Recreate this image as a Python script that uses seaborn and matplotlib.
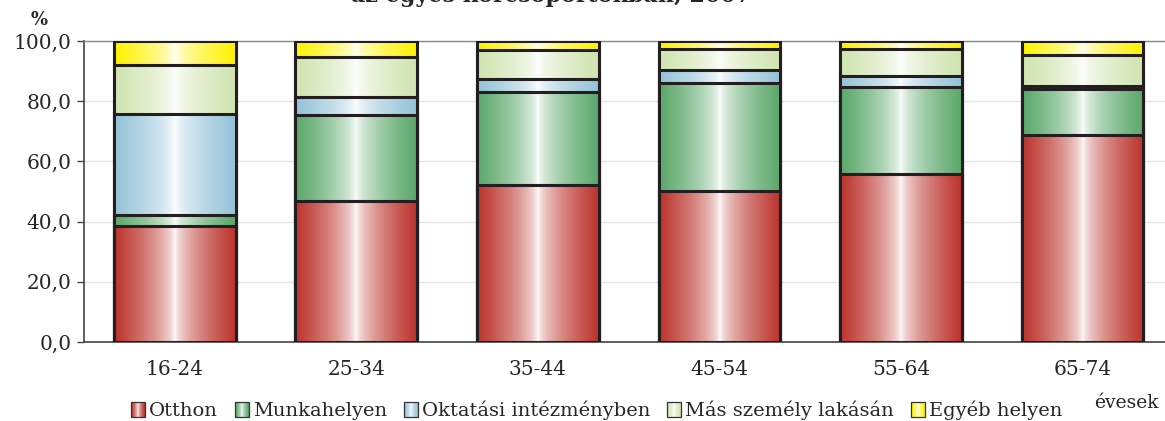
import numpy as np
import pandas as pd
import seaborn as sns
import matplotlib.pyplot as plt
from matplotlib.colors import to_rgb
from matplotlib.patches import Patch, Rectangle
from matplotlib.legend_handler import HandlerBase


groups = ['16-24', '25-34', '35-44', '45-54', '55-64', '65-74']
series = ['Otthon', 'Munkahelyen', 'Oktatási intézményben', 'Más személy lakásán', 'Egyéb helyen']
otthon = [38.5, 46.9, 52.2, 50.3, 55.9, 68.8]
munkahely = [3.8, 28.4, 30.9, 35.6, 28.7, 15.1]
oktatas = [33.3, 6.1, 4.2, 4.5, 3.7, 1.1]
mas_lakas = [16.5, 13.3, 9.6, 7.0, 9.1, 10.3]
egyeb = [7.9, 5.3, 3.1, 2.6, 2.6, 4.7]
colors = ['#bb332c', '#5aa76a', '#95c3d9', '#d0e4b0', '#fff200']

df = pd.DataFrame({'group': groups, 'Otthon': otthon, 'Munkahelyen': munkahely,
                   'Oktatási intézményben': oktatas, 'Más személy lakásán': mas_lakas,
                   'Egyéb helyen': egyeb})
cum = df[series].cumsum(axis=1)
cum['group'] = df['group']


def gradient(color, n=256):
    c = np.array(to_rgb(color))
    t = np.abs(np.linspace(-1, 1, n)) ** 0.6
    return (1 - (1 - c)[None, :] * t[:, None])


class GradHandler(HandlerBase):
    def __init__(self, color):
        super().__init__()
        self.color = color

    def create_artists(self, legend, orig_handle, xdescent, ydescent, width, height, fontsize, trans):
        s = min(width, height)
        x0 = -xdescent + (width - s) / 2
        y0 = -ydescent + (height - s) / 2
        n = 14
        g = gradient(self.color, n)
        arts = [Rectangle((x0 + i * s / n, y0), s / n, s, fc=g[i], ec='none', transform=trans) for i in range(n)]
        arts.append(Rectangle((x0, y0), s, s, fc='none', ec='#333333', lw=0.9, transform=trans))
        return arts


sns.set_style("white")
plt.rcParams['font.family'] = ['DejaVu Serif']

fig = plt.figure(figsize=(11.65, 4.21), dpi=100)
ax = fig.add_axes([0.0721, 0.1876, 0.935, 0.715])

# stacked bars: draw cumulative totals from the top series down
for i in range(len(series) - 1, -1, -1):
    n_before = len(ax.patches)
    sns.barplot(data=cum, x='group', y=series[i], color=colors[i], width=0.67, ax=ax,
                edgecolor='#231f20', linewidth=2.2, saturation=1, zorder=3 + 2 * (4 - i))
    grad = gradient(colors[i])[None, :, :]
    for p in ax.patches[n_before:]:
        x, y = p.get_x(), p.get_y()
        w, h = p.get_width(), p.get_height()
        p.set_facecolor('none')
        im = ax.imshow(grad, extent=[x, x + w, y, y + h], aspect='auto',
                       zorder=2.5 + 2 * (4 - i), interpolation='bilinear')
        im.set_clip_path(p)

ax.set_xlim(-0.5, 5.5)
ax.set_ylim(0, 100)
ax.set_yticks(np.arange(0, 101, 20))
ax.set_yticklabels([f'{v:.1f}'.replace('.', ',') for v in np.arange(0, 101, 20)], fontsize=14.5)
ax.set_xticks(range(len(groups)))
ax.set_xticklabels(groups, fontsize=14.5)
ax.set_xticks(np.arange(-0.5, 6, 1), minor=True)
ax.tick_params(axis='x', which='major', length=0, pad=13)
ax.tick_params(axis='x', which='minor', length=6, width=1, color='#444444', direction='out')
ax.tick_params(axis='y', which='major', length=5, width=1, color='#444444', direction='out', pad=4, left=True)
ax.set_xlabel('')
ax.set_ylabel('')
ax.yaxis.grid(True, color='#e4e4e4', linewidth=1, zorder=0)
ax.set_axisbelow(True)
for s in ['left', 'bottom']:
    ax.spines[s].set_color('#444444')
    ax.spines[s].set_linewidth(1.2)
ax.spines['top'].set_color('#888888')
ax.spines['top'].set_linewidth(1)
ax.spines['right'].set_visible(False)

fig.text(0.034, 0.952, '%', fontsize=13, fontweight='bold', ha='center', va='center')
fig.text(0.473, 1 - 2 / 421, 'az egyes korcsoportokban, 2007', fontsize=16, fontweight='bold',
         ha='center', va='baseline')
fig.text(0.9665, 0.043, 'évesek', fontsize=13.5, ha='center', va='center')

handles = [Patch(label=s) for s in series]
hmap = {h: GradHandler(c) for h, c in zip(handles, colors)}
fig.legend(handles=handles, handler_map=hmap, loc='center', bbox_to_anchor=(0.512, 0.025),
           ncol=5, frameon=False, fontsize=14, handlelength=0.75, handleheight=0.75,
           handletextpad=0.2, columnspacing=0.85, borderpad=0)

fig.savefig('out.png', dpi=100)
